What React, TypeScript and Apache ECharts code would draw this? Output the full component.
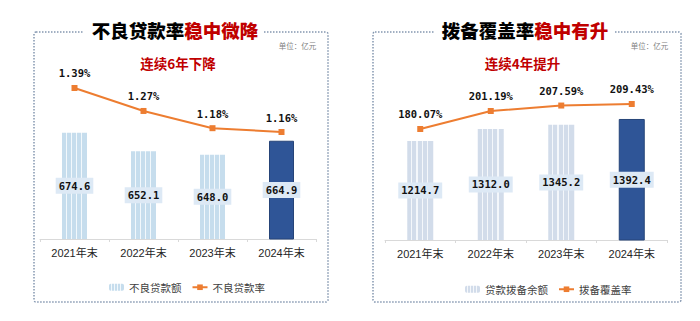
import React, { useEffect, useRef } from "react";
import * as echarts from "echarts";

const categories = ["2021年末", "2022年末", "2023年末", "2024年末"];
const nplAmount = [674.6, 652.1, 648.0, 664.9];
const nplRatio = [1.39, 1.27, 1.18, 1.16];
const provisionAmount = [1214.7, 1312.0, 1345.2, 1392.4];
const coverageRatio = [180.07, 201.19, 207.59, 209.43];

const ORANGE = "#ED7D31";
const DARK_BLUE = "#2F5597";
const RED = "#C00000";
const MONO = "'DejaVu Sans Mono', 'Liberation Mono', monospace";
const CJK = "'Liberation Sans', 'Noto Sans CJK SC', sans-serif";

function stripes(base: string, line: string) {
  const n = 5;
  const stops: { offset: number; color: string }[] = [];
  for (let i = 0; i < n; i++) {
    const a = i / n;
    const b = (i + 1) / n;
    const w = 0.045;
    stops.push({ offset: a, color: base });
    stops.push({ offset: b - w, color: base });
    if (i < n - 1) {
      stops.push({ offset: b - w, color: line });
      stops.push({ offset: b, color: line });
    }
  }
  return new echarts.graphic.LinearGradient(0, 0, 1, 0, stops);
}

export default function App() {
  const ref = useRef<HTMLDivElement>(null);
  useEffect(() => {
    if (!ref.current) return;
    const chart = echarts.init(ref.current, null, { renderer: "svg" });
    const leftFill = stripes("#c6dded", "#f2f8fc");
    const rightFill = stripes("#d2dcea", "#f4f7fb");

    const barLabel = {
      show: true,
      position: "inside",
      color: "#111",
      fontFamily: MONO,
      fontWeight: "bold",
      fontSize: 10.5,
      backgroundColor: "#dde9f5",
      padding: [3, 3, 2, 3],
      formatter: (p: any) => Number(p.value).toFixed(1),
    };
    const lineLabel = {
      show: true,
      position: "top",
      distance: 6,
      color: "#111",
      fontFamily: MONO,
      fontWeight: "bold",
      fontSize: 10.5,
      formatter: (p: any) => Number(p.value).toFixed(2) + "%",
    };
    const xAxisBase = {
      type: "category",
      data: categories,
      axisLine: { lineStyle: { color: "#D9D9D9", width: 1 } },
      axisTick: { show: true, length: 3, lineStyle: { color: "#D9D9D9" } },
      axisLabel: { color: "#262626", fontSize: 11, fontFamily: CJK, margin: 8 },
    };
    const hiddenY = {
      type: "value",
      show: false,
      splitLine: { show: false },
    };

    const border = (x1: number, x2: number, gap1: number, gap2: number) => [
      {
        type: "rect",
        shape: { x: x1, y: 32, width: x2 - x1, height: 270, r: 2 },
        style: { fill: "none", stroke: "#8497B0", lineWidth: 1.5, lineDash: [1.5, 1.5] },
        z: 0,
      },
      {
        type: "rect",
        shape: { x: gap1, y: 20, width: gap2 - gap1, height: 22 },
        style: { fill: "#fff" },
        z: 1,
      },
    ];

    const titleRich = {
      a: { fontSize: 18.5, fontWeight: 900, fill: "#000", fontFamily: "'Noto Sans CJK SC'" },
      b: { fontSize: 18.5, fontWeight: 900, fill: RED, fontFamily: "'Noto Sans CJK SC'" },
    };

    chart.setOption({
      animation: false,
      backgroundColor: "#fff",
      graphic: [
        ...border(34, 328, 84, 264),
        ...border(373, 681, 434, 614),
        {
          type: "text",
          x: 175,
          y: 30,
          z: 2,
          style: { text: "{a|不良贷款率}{b|稳中微降}", align: "center", verticalAlign: "middle", rich: titleRich },
        },
        {
          type: "text",
          x: 525,
          y: 30,
          z: 2,
          style: { text: "{a|拨备覆盖率}{b|稳中有升}", align: "center", verticalAlign: "middle", rich: titleRich },
        },
        {
          type: "text",
          x: 297.5,
          y: 45,
          style: { text: "单位：亿元", align: "center", verticalAlign: "middle", fontSize: 7.5, fill: "#7f7f7f", fontFamily: "'Noto Sans CJK SC'" },
        },
        {
          type: "text",
          x: 649.5,
          y: 45,
          style: { text: "单位：亿元", align: "center", verticalAlign: "middle", fontSize: 7.5, fill: "#7f7f7f", fontFamily: "'Noto Sans CJK SC'" },
        },
        {
          type: "text",
          x: 178,
          y: 63,
          style: { text: "连续6年下降", align: "center", verticalAlign: "middle", fontSize: 13.5, fontWeight: "bold", fill: RED, fontFamily: "'Noto Sans CJK SC'" },
        },
        {
          type: "text",
          x: 522.5,
          y: 63,
          style: { text: "连续4年提升", align: "center", verticalAlign: "middle", fontSize: 13.5, fontWeight: "bold", fill: RED, fontFamily: "'Noto Sans CJK SC'" },
        },
      ],
      grid: [
        { left: 40, width: 276, top: 70, height: 169 },
        { left: 385, width: 282, top: 70, height: 170 },
      ],
      xAxis: [
        { ...xAxisBase, gridIndex: 0 },
        { ...xAxisBase, gridIndex: 1 },
      ],
      yAxis: [
        { ...hiddenY, gridIndex: 0, min: 546, max: 750.5 },
        { ...hiddenY, gridIndex: 0, min: 0.601, max: 1.484 },
        { ...hiddenY, gridIndex: 1, min: 414.7, max: 1788 },
        { ...hiddenY, gridIndex: 1, min: 49.8, max: 249.3 },
      ],
      legend: [
        {
          left: 104,
          top: 277,
          itemWidth: 15,
          itemHeight: 7,
          itemGap: 10,
          data: ["不良贷款额", "不良贷款率"],
          textStyle: { fontSize: 10.5, color: "#404040", fontFamily: "'Noto Sans CJK SC'" },
        },
        {
          left: 460,
          top: 279,
          itemWidth: 15,
          itemHeight: 7,
          itemGap: 10,
          data: ["贷款拨备余额", "拨备覆盖率"],
          textStyle: { fontSize: 10.5, color: "#404040", fontFamily: "'Noto Sans CJK SC'" },
        },
      ],
      series: [
        {
          name: "不良贷款额",
          type: "bar",
          xAxisIndex: 0,
          yAxisIndex: 0,
          barWidth: 25,
          itemStyle: { color: leftFill },
          label: barLabel,
          data: nplAmount.map((v, i) =>
            i === 3
              ? { value: v, itemStyle: { color: DARK_BLUE, borderColor: "#264478", borderWidth: 1 } }
              : v
          ),
        },
        {
          name: "不良贷款率",
          type: "line",
          xAxisIndex: 0,
          yAxisIndex: 1,
          symbol: "rect",
          symbolSize: 6,
          lineStyle: { color: ORANGE, width: 2 },
          itemStyle: { color: ORANGE },
          label: lineLabel,
          data: nplRatio,
        },
        {
          name: "贷款拨备余额",
          type: "bar",
          xAxisIndex: 1,
          yAxisIndex: 2,
          barWidth: 26,
          itemStyle: { color: rightFill },
          label: barLabel,
          data: provisionAmount.map((v, i) =>
            i === 3
              ? { value: v, itemStyle: { color: DARK_BLUE, borderColor: "#264478", borderWidth: 1 } }
              : v
          ),
        },
        {
          name: "拨备覆盖率",
          type: "line",
          xAxisIndex: 1,
          yAxisIndex: 3,
          symbol: "rect",
          symbolSize: 6,
          lineStyle: { color: ORANGE, width: 2 },
          itemStyle: { color: ORANGE },
          label: lineLabel,
          data: coverageRatio,
        },
      ],
    });
    return () => chart.dispose();
  }, []);
  return (
    <div
      ref={ref}
      style={{ position: "fixed", left: 0, top: 0, width: 700, height: 321 }}
    />
  );
}
